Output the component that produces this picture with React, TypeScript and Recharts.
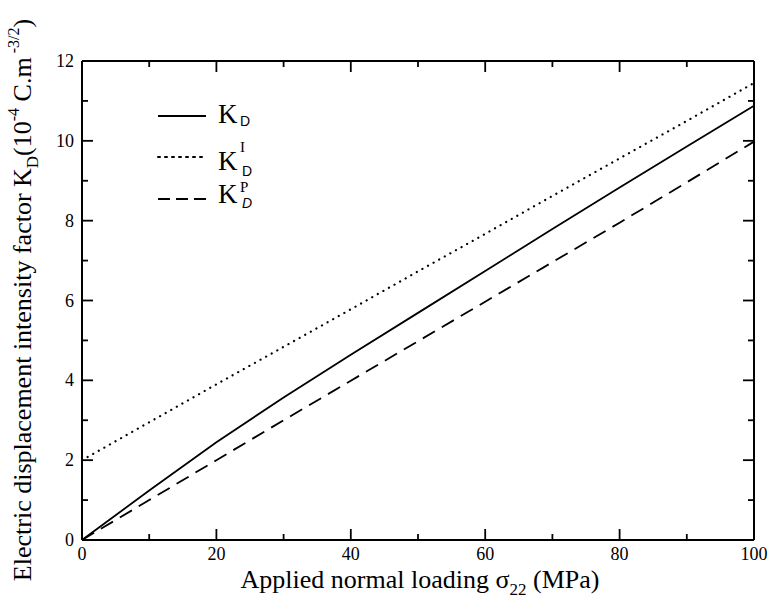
import { Line, LineChart, XAxis, YAxis } from "recharts";

const LOADING = [0, 10, 20, 30, 40, 50, 60, 70, 80, 90, 100];
const K_TOTAL = [0, 1.24, 2.45, 3.57, 4.64, 5.69, 6.74, 7.79, 8.83, 9.86, 10.88];
const K_INDUCED = [2.0, 2.95, 3.9, 4.84, 5.78, 6.73, 7.67, 8.62, 9.56, 10.5, 11.45];
const K_PIEZO = [0, 1.0, 2.0, 3.0, 3.99, 4.98, 5.97, 6.96, 7.95, 8.96, 9.98];

const X_TICKS = [0, 10, 20, 30, 40, 50, 60, 70, 80, 90, 100];
const Y_TICKS = [0, 1, 2, 3, 4, 5, 6, 7, 8, 9, 10, 11, 12];

const FONT = "Liberation Serif, Times New Roman, serif";
const SANS = "Liberation Sans, Arial, sans-serif";
const INK = "#000";
const AXIS = { stroke: INK, strokeWidth: 2 };

const data = LOADING.map((x, i) => ({
  x,
  total: K_TOTAL[i],
  induced: K_INDUCED[i],
  piezo: K_PIEZO[i],
}));

// ticks point into the plot; majors carry a label, minors are shorter
function BottomTick(props: any) {
  const { x, y, payload } = props;
  const major = payload.value % 20 === 0;
  return (
    <g>
      <line x1={x} y1={y} x2={x} y2={y - (major ? 11 : 6)} stroke={INK} strokeWidth={1.8} />
      {major && (
        <text x={x} y={y + 20} textAnchor="middle" fontFamily={FONT} fontSize={18} fill={INK}>
          {payload.value}
        </text>
      )}
    </g>
  );
}

function TopTick(props: any) {
  const { x, y, payload } = props;
  const major = payload.value % 20 === 0;
  return <line x1={x} y1={y} x2={x} y2={y + (major ? 11 : 6)} stroke={INK} strokeWidth={1.8} />;
}

function LeftTick(props: any) {
  const { x, y, payload } = props;
  const major = payload.value % 2 === 0;
  return (
    <g>
      <line x1={x} y1={y} x2={x + (major ? 11 : 6)} y2={y} stroke={INK} strokeWidth={1.8} />
      {major && (
        <text x={x - 8} y={y + 6} textAnchor="end" fontFamily={FONT} fontSize={18} fill={INK}>
          {payload.value}
        </text>
      )}
    </g>
  );
}

function RightTick(props: any) {
  const { x, y, payload } = props;
  const major = payload.value % 2 === 0;
  return <line x1={x} y1={y} x2={x - (major ? 11 : 6)} y2={y} stroke={INK} strokeWidth={1.8} />;
}

function XTitle() {
  return (
    <text x={420} y={588} textAnchor="middle" fontFamily={FONT} fontSize={26} fill={INK}>
      Applied normal loading σ
      <tspan fontSize={17} dy={7}>22</tspan>
      <tspan dy={-7}> (MPa)</tspan>
    </text>
  );
}

function YTitle() {
  return (
    <text
      transform="translate(31, 300) rotate(-90)"
      textAnchor="middle"
      fontFamily={FONT}
      fontSize={26}
      fill={INK}
    >
      Electric displacement intensity factor  K
      <tspan fontSize={17} dy={7}>D</tspan>
      <tspan dy={-7}>(10</tspan>
      <tspan fontSize={16} dy={-12}>-4</tspan>
      <tspan dy={12}> C.m</tspan>
      <tspan fontSize={16} dy={-12}> -3/2</tspan>
      <tspan dy={12}>)</tspan>
    </text>
  );
}

const LEGEND_ROWS = [
  { dash: undefined as string | undefined, sup: "", line: 116, base: 123, supY: 0, subY: 126 },
  { dash: "2 5", sup: "I", line: 157, base: 170, supY: 152, subY: 176 },
  { dash: "12 6", sup: "P", line: 199, base: 203, supY: 192, subY: 208 },
];

function LegendBox() {
  return (
    <g>
      {LEGEND_ROWS.map((r) => (
        <g key={r.line}>
          <line
            x1={158}
            x2={206}
            y1={r.line}
            y2={r.line}
            stroke={INK}
            strokeWidth={r.dash === "2 5" ? 2 : 1.8}
            strokeDasharray={r.dash}
            strokeLinecap={r.dash === "2 5" ? "round" : "butt"}
          />
          <text x={218} y={r.base} fontFamily={FONT} fontSize={27} fill={INK}>
            K
          </text>
          {r.sup && (
            <text x={240} y={r.supY} fontFamily={FONT} fontSize={15} fill={INK}>
              {r.sup}
            </text>
          )}
          <text
            x={r.sup ? 242 : 240}
            y={r.subY}
            fontFamily={SANS}
            fontSize={14}
            fontStyle={r.sup === "P" ? "italic" : "normal"}
            fill={INK}
          >
            D
          </text>
        </g>
      ))}
    </g>
  );
}

export default function App() {
  return (
    <div style={{ position: "absolute", left: 0, top: 0, width: 769, height: 601, background: "#fff" }}>
      <LineChart
        width={769}
        height={601}
        data={data}
        margin={{ top: 60, right: 14, left: 0, bottom: 0 }}
      >
        <XAxis
          xAxisId="b"
          dataKey="x"
          type="number"
          domain={[0, 100]}
          ticks={X_TICKS}
          height={61}
          tickSize={0}
          tickMargin={0}
          tickLine={false}
          tick={<BottomTick />}
          axisLine={AXIS}
          interval={0}
        />
        <XAxis
          xAxisId="t"
          dataKey="x"
          type="number"
          orientation="top"
          domain={[0, 100]}
          ticks={X_TICKS}
          height={1}
          tickSize={0}
          tickMargin={0}
          tickLine={false}
          tick={<TopTick />}
          axisLine={AXIS}
          interval={0}
        />
        <YAxis
          yAxisId="l"
          type="number"
          domain={[0, 12]}
          ticks={Y_TICKS}
          width={82}
          tickSize={0}
          tickMargin={0}
          tickLine={false}
          tick={<LeftTick />}
          axisLine={AXIS}
          interval={0}
        />
        <YAxis
          yAxisId="r"
          type="number"
          orientation="right"
          domain={[0, 12]}
          ticks={Y_TICKS}
          width={1}
          tickSize={0}
          tickMargin={0}
          tickLine={false}
          tick={<RightTick />}
          axisLine={AXIS}
          interval={0}
        />
        <Line
          xAxisId="b"
          yAxisId="l"
          dataKey="total"
          type="linear"
          stroke={INK}
          strokeWidth={1.8}
          dot={false}
          isAnimationActive={false}
        />
        <Line
          xAxisId="t"
          yAxisId="r"
          dataKey="induced"
          type="linear"
          stroke={INK}
          strokeWidth={2.2}
          strokeDasharray="0.1 6.3"
          strokeLinecap="round"
          dot={false}
          isAnimationActive={false}
        />
        <Line
          xAxisId="b"
          yAxisId="l"
          dataKey="piezo"
          type="linear"
          stroke={INK}
          strokeWidth={1.8}
          strokeDasharray="14 8"
          dot={false}
          isAnimationActive={false}
        />
        <XTitle />
        <YTitle />
        <LegendBox />
      </LineChart>
    </div>
  );
}
